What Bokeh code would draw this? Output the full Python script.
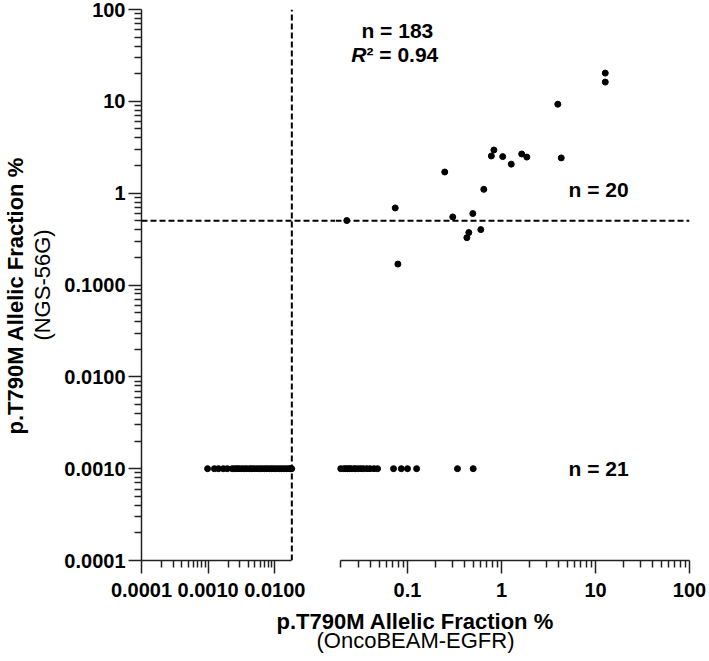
from bokeh.plotting import figure
from bokeh.layouts import row, column
from bokeh.models import Range1d, FixedTicker, Span, Title
from bokeh.core.properties import value
from bokeh.embed import file_html
from bokeh.resources import INLINE

FONT = "Liberation Sans"

# ---------------- data ----------------
# detected by both assays (x: OncoBEAM-EGFR %, y: NGS-56G %)
both_onco = [12.7, 12.7, 3.97, 0.83, 0.78, 1.03, 1.27, 1.64, 1.86, 4.32,
             0.249, 0.648, 0.074, 0.303, 0.495, 0.449, 0.428, 0.602, 0.079, 0.0226]
both_ngs = [20.3, 16.2, 9.3, 2.95, 2.54, 2.50, 2.07, 2.67, 2.47, 2.42,
            1.70, 1.10, 0.69, 0.551, 0.60, 0.372, 0.328, 0.401, 0.169, 0.503]
# NGS not detected (plotted at 0.001), OncoBEAM >= 0.02 % (right x segment)
ngs_neg_onco_high = [0.0195, 0.021, 0.022, 0.023, 0.024, 0.025, 0.027, 0.028, 0.030, 0.032,
                     0.034, 0.037, 0.040, 0.044, 0.048, 0.071, 0.086, 0.100, 0.125, 0.34, 0.50]
# NGS not detected, OncoBEAM below the break (left x segment)
ngs_neg_onco_low = [0.00098, 0.00124, 0.00143, 0.00169, 0.00194, 0.0023, 0.0025, 0.0027,
                    0.0029, 0.0032, 0.0035, 0.0038, 0.0042, 0.0045, 0.0049, 0.0054, 0.0059,
                    0.0064, 0.0070, 0.0076, 0.0083, 0.0090, 0.0098, 0.0107, 0.0117, 0.0127,
                    0.0139, 0.0151, 0.0164, 0.0172, 0.0179]
NGS_NOT_DETECTED = 0.001

y_ticks = [0.0001, 0.001, 0.01, 0.1, 1, 10, 100]
y_tick_labels = ["0.0001", "0.0010", "0.0100", "0.1000", "1", "10", "100"]
xl_ticks = [0.0001, 0.001, 0.01]
xl_tick_labels = ["0.0001", "0.0010", "0.0100"]
xr_ticks = [0.1, 1, 10, 100]
xr_tick_labels = ["0.1", "1", "10", "100"]

LEFT_END = 0.018      # end of left x segment (also the vertical cut-off line)
RIGHT_START = 0.0195  # start of right x segment
NGS_CUTOFF = 0.5      # horizontal cut-off line

# ---------------- layout ----------------
ML = 140              # space for y axis + titles
MT = 9
FRAME_H = 551
MB = 46
TOP_H = MT + FRAME_H + MB
LEFT_FRAME_W = 195
RIGHT_FRAME_W = 354
MR = 18
LEFT_PX_PER_DEC = 67.0
RIGHT_PX_PER_DEC = 94.0
BOTTOM_H = 52
TOTAL_W = ML + LEFT_FRAME_W + RIGHT_FRAME_W + MR

left_end_view = 1e-4 * 10 ** (LEFT_FRAME_W / LEFT_PX_PER_DEC)
right_start_view = 100 / 10 ** (RIGHT_FRAME_W / RIGHT_PX_PER_DEC)

y_range = Range1d(1e-4, 100)
AX_COLOR = "#222222"


def style_axis(ax):
    ax.axis_line_color = AX_COLOR
    ax.axis_line_width = 1.5
    ax.major_tick_line_color = AX_COLOR
    ax.major_tick_line_width = 1.5
    ax.minor_tick_line_color = AX_COLOR
    ax.minor_tick_line_width = 1.5
    ax.major_tick_out = 13
    ax.major_tick_in = 0
    ax.minor_tick_out = 7
    ax.minor_tick_in = 0
    ax.major_label_text_font = FONT
    ax.major_label_text_font_size = "20px"
    ax.major_label_text_font_style = "bold"
    ax.major_label_text_color = "black"


def base(fig):
    fig.outline_line_color = None
    fig.grid.visible = False
    fig.background_fill_color = "white"
    fig.border_fill_color = "white"


# ---- left panel: y axis + left x segment ----
pl = figure(width=ML + LEFT_FRAME_W, height=TOP_H, x_axis_type="log", y_axis_type="log",
            x_range=Range1d(1e-4, left_end_view), y_range=y_range,
            output_backend="svg", toolbar_location=None,
            min_border_left=ML, min_border_right=0, min_border_top=MT, min_border_bottom=MB)
base(pl)

y_minor = [m * 10.0 ** e for e in range(-4, 2) for m in range(2, 10)]
yax = pl.yaxis[0]
yax.ticker = FixedTicker(ticks=y_ticks, minor_ticks=y_minor)
yax.major_label_overrides = dict(zip(y_ticks, y_tick_labels))
style_axis(yax)
yax.major_label_standoff = 3
yax.axis_label = "(NGS-56G)"
yax.axis_label_text_font = FONT
yax.axis_label_text_font_size = "22px"
yax.axis_label_text_font_style = "normal"
yax.axis_label_text_color = "black"
yax.axis_label_standoff = 6

xl_minor = [m * 10.0 ** e for e in range(-4, -2) for m in range(2, 10)]
lax = pl.xaxis[0]
lax.ticker = FixedTicker(ticks=xl_ticks, minor_ticks=xl_minor)
lax.major_label_overrides = dict(zip(xl_ticks, xl_tick_labels))
lax.bounds = (1e-4, LEFT_END)
style_axis(lax)
lax.major_label_standoff = 9

pl.add_layout(Title(text="p.T790M Allelic Fraction %", align="left", offset=126,
                    text_font=FONT, text_font_size="22px", text_font_style="bold",
                    text_color="black", standoff=0), "left")

pl.add_layout(Span(location=NGS_CUTOFF, dimension="width", line_color="black",
                   line_width=2, line_dash="6 3"))
pl.line(x=[LEFT_END, LEFT_END], y=[1e-4, 100], line_color="black", line_width=2, line_dash="6 3")
pl.scatter(x=ngs_neg_onco_low, y=[NGS_NOT_DETECTED] * len(ngs_neg_onco_low), size=6, color="black")

# ---- right panel: right x segment ----
pr = figure(width=RIGHT_FRAME_W + MR, height=TOP_H, x_axis_type="log", y_axis_type="log",
            x_range=Range1d(right_start_view, 100), y_range=y_range,
            y_axis_location=None, output_backend="svg", toolbar_location=None,
            min_border_left=0, min_border_right=MR, min_border_top=MT, min_border_bottom=MB)
base(pr)

xr_minor = ([m * 0.01 for m in range(3, 10)]
            + [m * 10.0 ** e for e in range(-1, 2) for m in range(2, 10)] + [RIGHT_START])
xax = pr.xaxis[0]
xax.ticker = FixedTicker(ticks=xr_ticks, minor_ticks=xr_minor)
xax.major_label_overrides = dict(zip(xr_ticks, xr_tick_labels))
xax.bounds = (RIGHT_START, 100)
style_axis(xax)
xax.major_label_standoff = 9

pr.add_layout(Span(location=NGS_CUTOFF, dimension="width", line_color="black",
                   line_width=2, line_dash="6 3"))
pr.scatter(x=both_onco, y=both_ngs, size=6, color="black")
pr.scatter(x=ngs_neg_onco_high, y=[NGS_NOT_DETECTED] * len(ngs_neg_onco_high), size=6, color="black")

txt = dict(text_font=value(FONT), text_font_size=value("21px"), text_color="black",
           text_baseline="middle")
pr.text(x=[0.078], y=[59], text=["n = 183"], text_align="center", text_font_style="bold", **txt)
pr.text(x=[0.0366], y=[32], text=["R"], text_align="right", text_font_style="bold italic", **txt)
pr.text(x=[0.0366], y=[32], text=["\u00b2 = 0.94"], text_align="left", text_font_style="bold", **txt)
pr.text(x=[10.8], y=[1.11], text=["n = 20"], text_align="center", text_font_style="bold", **txt)
pr.text(x=[10.8], y=[0.001], text=["n = 21"], text_align="center", text_font_style="bold", **txt)

# ---- bottom strip: x axis title ----
pb = figure(width=TOTAL_W, height=BOTTOM_H, x_range=Range1d(0, TOTAL_W), y_range=Range1d(BOTTOM_H, 0),
            x_axis_location=None, y_axis_location=None, output_backend="svg", toolbar_location=None,
            min_border=0)
base(pb)
ttl = dict(text_font=value(FONT), text_font_size=value("22px"), text_color="black",
           text_align="left", text_baseline="alphabetic")
pb.text(x=[276], y=[15], text=["p.T790M Allelic Fraction %"], text_font_style="bold", **ttl)
pb.text(x=[316], y=[34], text=["(OncoBEAM-EGFR)"], text_font_style="normal", **ttl)

layout = column(row(pl, pr, spacing=0), pb, spacing=0)
open("out.html", "w").write(file_html(layout, INLINE))
